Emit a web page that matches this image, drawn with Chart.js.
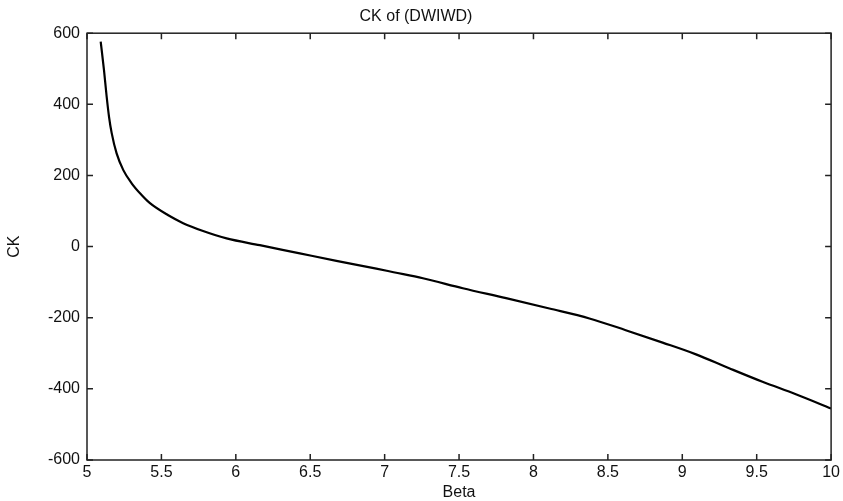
<!DOCTYPE html>
<html>
<head>
<meta charset="utf-8">
<script src="https://cdn.jsdelivr.net/npm/chart.js@4.4.1/dist/chart.umd.min.js"></script>
<style>
  html, body { margin: 0; padding: 0; background: #fff; }
  #wrap { width: 843px; height: 501px; }
</style>
</head>
<body>
<div id="wrap"><canvas id="c" width="843" height="501"></canvas></div>
<script>
// Data
const chartTitle = "CK of (DWIWD)";
const xLabel = "Beta";
const yLabel = "CK";
const betaValues = [5.092, 5.114, 5.132, 5.148, 5.166, 5.199, 5.244, 5.300, 5.367, 5.423, 5.546, 5.646, 5.78, 5.938, 6.161, 6.43, 6.676, 6.944, 7.06, 7.257, 7.525, 7.816, 8.107, 8.376, 8.62, 8.868, 9.092, 9.315, 9.539, 9.763, 10.0];
const ckValues   = [576, 497, 422, 365, 319, 262, 215, 178, 145, 122, 88, 66, 44, 23, 4, -19, -40, -62, -72, -89, -117, -145, -174, -202, -235, -270, -303, -342, -380, -415, -455];
const xTicks = [5, 5.5, 6, 6.5, 7, 7.5, 8, 8.5, 9, 9.5, 10];
const yTicks = [-600, -400, -200, 0, 200, 400, 600];

const points = betaValues.map((b, i) => ({ x: b, y: ckValues[i] }));
const FONT = "'Liberation Sans', Arial, Helvetica, sans-serif";

const framePlugin = {
  id: 'frame',
  afterDraw(chart) {
    const { ctx, chartArea: a, scales } = chart;
    ctx.save();
    ctx.strokeStyle = '#222';
    ctx.lineWidth = 1.5;
    ctx.strokeRect(a.left, a.top, a.right - a.left, a.bottom - a.top);
    const tl = 6;
    ctx.beginPath();
    scales.x.ticks.forEach(t => {
      const px = scales.x.getPixelForValue(t.value);
      ctx.moveTo(px, a.bottom); ctx.lineTo(px, a.bottom - tl);
      ctx.moveTo(px, a.top); ctx.lineTo(px, a.top + tl);
    });
    scales.y.ticks.forEach(t => {
      const py = scales.y.getPixelForValue(t.value);
      ctx.moveTo(a.left, py); ctx.lineTo(a.left + tl, py);
      ctx.moveTo(a.right, py); ctx.lineTo(a.right - tl, py);
    });
    ctx.stroke();
    ctx.restore();
  }
};

new Chart(document.getElementById('c'), {
  type: 'line',
  data: {
    datasets: [{
      data: points,
      borderColor: '#000',
      borderWidth: 2.2,
      pointRadius: 0,
      fill: false,
      cubicInterpolationMode: 'monotone'
    }]
  },
  options: {
    responsive: false,
    animation: false,
    layout: { padding: { left: 0, right: 11, top: 0, bottom: 0 } },
    plugins: {
      legend: { display: false },
      tooltip: { enabled: false },
      title: {
        display: true,
        text: chartTitle,
        color: '#111',
        font: { family: FONT, size: 16, weight: 'normal', lineHeight: 1.2 },
        padding: { top: 7, bottom: 7 }
      }
    },
    scales: {
      x: {
        type: 'linear',
        min: 5, max: 10,
        afterBuildTicks: s => { s.ticks = xTicks.map(v => ({ value: v })); },
        afterFit: s => { s.height = 41; },
        grid: { display: false, drawTicks: false },
        border: { display: false },
        ticks: { color: '#111', padding: 3, maxRotation: 0, font: { family: FONT, size: 16 }, callback: v => String(v) },
        title: { display: true, text: xLabel, color: '#111', padding: 0, font: { family: FONT, size: 16, lineHeight: 1 } }
      },
      y: {
        type: 'linear',
        min: -600, max: 600,
        afterBuildTicks: s => { s.ticks = yTicks.map(v => ({ value: v })); },
        afterFit: s => { s.width = 87; },
        grid: { display: false, drawTicks: false },
        border: { display: false },
        ticks: { color: '#111', padding: 7, font: { family: FONT, size: 16 }, callback: v => String(v) },
        title: { display: true, text: yLabel, color: '#111', padding: { top: 7, bottom: 0 }, font: { family: FONT, size: 16, lineHeight: 1 } }
      }
    }
  },
  plugins: [framePlugin]
});
</script>
</body>
</html>
